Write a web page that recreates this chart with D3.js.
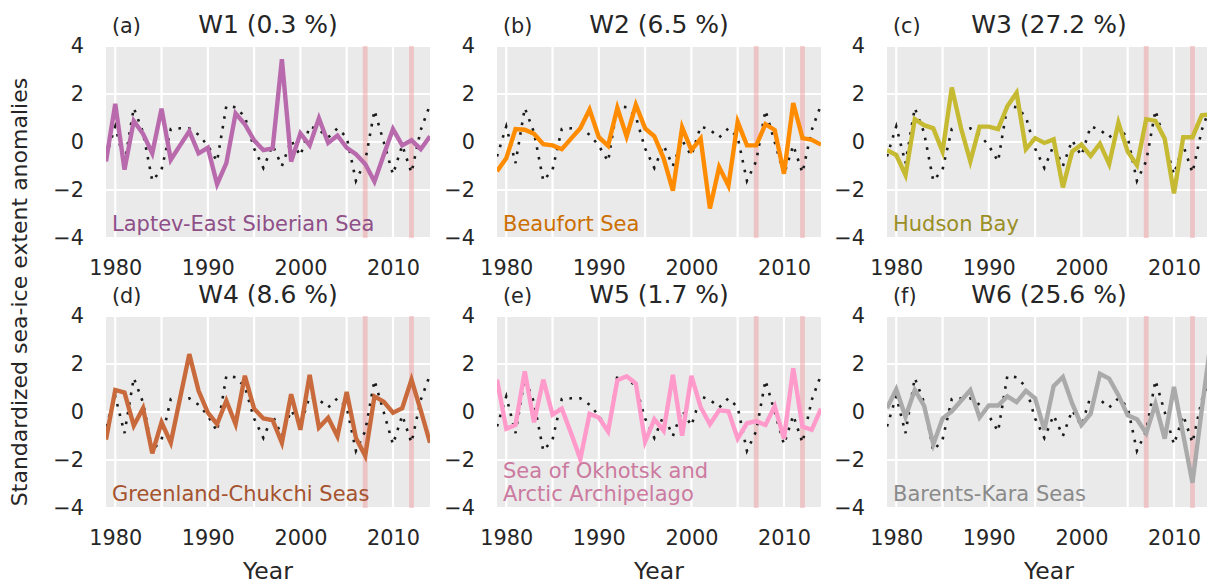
<!DOCTYPE html>
<html>
<head>
<meta charset="utf-8">
<script src="https://cdn.jsdelivr.net/npm/d3@7"></script>
<style>
  html, body { margin: 0; padding: 0; background: #fff; }
  svg { display: block; font-family: "DejaVu Sans", sans-serif; }
</style>
</head>
<body>
<svg id="chart" width="1207" height="585"></svg>
<script>
// Winter sea-ice extent anomalies, 1979-2014
const years = d3.range(1979, 2015);

// Standardized index shown as the dotted reference in every panel
const refSeries = [-0.6, 0.65, -0.88, 1.42, 0.4, -1.62, -1.15, 0.54, 0.57, 0.57,
  0.3, -0.15, -0.81, 1.5, 1.45, 1.05, -0.27, -1.08, -0.14, -1.0,
  0.07, -0.57, 0.65, 0.51, 0.19, 0.57, 0.2, -1.62, -0.8, 1.32,
  0.0, -1.35, -0.14, -1.28, 0.5, 1.55];

const w1 = [-0.81, 1.59, -1.15, 0.88, 0.34, -0.47, 1.39, -0.74, -0.14, 0.45,
  -0.47, -0.24, -1.76, -0.88, 1.19, 0.74, 0.07, -0.34, -0.27, 3.45,
  -0.81, 0.36, -0.14, 0.99, -0.04, 0.27, -0.24, -0.51, -0.92, -1.65,
  -0.54, 0.54, -0.14, 0.07, -0.3, 0.24];
const w2 = [-1.22, -0.68, 0.54, 0.51, 0.34, -0.09, -0.14, -0.3, 0.14, 0.57,
  1.35, 0.2, -0.16, 1.42, 0.23, 1.55, 0.57, 0.24, -0.68, -2.03,
  0.61, -0.34, 0.14, -2.77, -1.04, -1.82, 0.84, -0.14, -0.14, 0.74,
  0.5, -1.32, 1.62, 0.16, 0.09, -0.11];
const w3 = [-0.34, -0.54, -1.38, 0.95, 0.7, 0.57, -0.4, 2.27, 0.57, -0.81,
  0.64, 0.64, 0.54, 1.49, 2.05, -0.3, 0.16, -0.04, 0.11, -1.89,
  -0.4, -0.11, -0.58, -0.07, -0.92, 0.81, -0.4, -0.97, 0.95, 0.88,
  0.14, -2.14, 0.2, 0.2, 1.11, 1.15];
const w4 = [-1.15, 0.92, 0.81, -0.57, 0.16, -1.72, -0.43, -1.28, 0.57, 2.41,
  0.88, -0.03, -0.51, 0.47, -0.51, 1.51, 0.14, -0.27, -0.34, -1.28,
  0.74, -0.74, 1.55, -0.65, -0.24, -1.01, 0.84, -1.08, -1.82, 0.65,
  0.43, -0.03, 0.16, 1.35, 0.07, -1.28];
const w5 = [1.35, -0.7, -0.54, 1.69, -0.43, 1.35, -0.11, 0.14, -0.88, -1.96,
  -0.07, -0.23, -0.81, 1.32, 1.49, 1.19, -1.24, -0.3, -0.78, 1.55,
  -0.99, 1.51, 0.2, -0.51, 0.07, 0.03, -1.11, -0.47, -0.38, -0.54,
  0.24, -1.11, 1.82, -0.61, -0.74, 0.14];
const w6 = [0.16, 0.95, -0.2, 0.92, 0.27, -1.35, -0.27, 0.03, 0.47, 0.91,
  -0.23, 0.27, 0.27, 0.65, 0.41, 0.88, 0.57, -0.74, 1.08, 1.46,
  0.36, -0.54, -0.07, 1.59, 1.39, 0.7, -0.14, -0.3, -0.88, 0.34,
  -1.11, 1.05, -0.95, -2.95, 0.1, 3.0];

const modeSeries = [w1, w2, w3, w4, w5, w6];
const modeNames = ["W1", "W2", "W3", "W4", "W5", "W6"];
const modeShares = [0.3, 6.5, 27.2, 8.6, 1.7, 25.6];
const panelTags = ["(a)", "(b)", "(c)", "(d)", "(e)", "(f)"];
const regionNames = [
  ["Laptev-East Siberian Sea"],
  ["Beaufort Sea"],
  ["Hudson Bay"],
  ["Greenland-Chukchi Seas"],
  ["Sea of Okhotsk and", "Arctic Archipelago"],
  ["Barents-Kara Seas"]
];
const highlightYears = [2007, 2012];
const yTicks = [-4, -2, 0, 2, 4];
const xLabelTicks = [1980, 1990, 2000, 2010];
const xGridTicks = [1980, 1985, 1990, 1995, 2000, 2005, 2010];

// Styling
const lineColors = ["#b86aad", "#ff8c00", "#c6ba33", "#c96a3c", "#ff9acb", "#aaaaaa"];
const labelColors = ["#8f4f88", "#cc6f00", "#9a8f26", "#a5532e", "#cc7aa0", "#8a8a8a"];
const textColor = "#262626";
const panelBg = "#eaeaea";
const bandColor = "rgba(240, 150, 155, 0.45)";

const svg = d3.select("#chart");
const panelW = 324, panelH = 192;
const colX = [106, 497, 887];
const rowY = [46, 316];

const x = d3.scaleLinear().domain([1979, 2014]).range([0, panelW]);
const y = d3.scaleLinear().domain([-4, 4]).range([panelH, 0]);

const line = d3.line().x((d, i) => x(years[i])).y(d => y(d));

modeSeries.forEach((series, k) => {
  const col = k % 3, row = Math.floor(k / 3);
  const g = svg.append("g").attr("transform", `translate(${colX[col]},${rowY[row]})`);
  const clipId = "clip" + k;
  g.append("clipPath").attr("id", clipId)
    .append("rect").attr("width", panelW).attr("height", panelH);

  g.append("rect").attr("width", panelW).attr("height", panelH).attr("fill", panelBg);

  // grid lines
  const grid = g.append("g").attr("clip-path", `url(#${clipId})`);
  grid.selectAll("line.gx").data(xGridTicks).join("line")
    .attr("x1", d => x(d)).attr("x2", d => x(d))
    .attr("y1", 0).attr("y2", panelH)
    .attr("stroke", "#fff").attr("stroke-width", 2.2);
  grid.selectAll("line.gy").data(yTicks).join("line")
    .attr("x1", 0).attr("x2", panelW)
    .attr("y1", d => y(d)).attr("y2", d => y(d))
    .attr("stroke", "#fff").attr("stroke-width", 2.2);

  // highlighted winters
  grid.selectAll("rect.band").data(highlightYears).join("rect")
    .attr("x", d => x(d) - 2.4).attr("width", 4.8)
    .attr("y", 0).attr("height", panelH)
    .attr("fill", bandColor);

  const plot = g.append("g").attr("clip-path", `url(#${clipId})`);
  plot.append("path").datum(refSeries)
    .attr("d", line).attr("fill", "none")
    .attr("stroke", "#1a1a1a").attr("stroke-width", 2.6)
    .attr("stroke-dasharray", "2.6 7.2");
  plot.append("path").datum(series)
    .attr("d", line).attr("fill", "none")
    .attr("stroke", lineColors[k]).attr("stroke-width", 4.4)
    .attr("stroke-linejoin", "miter").attr("stroke-miterlimit", 4);

  // region label
  const lines = regionNames[k];
  lines.forEach((t, j) => {
    g.append("text")
      .attr("x", 6)
      .attr("y", panelH - 7 - (lines.length - 1 - j) * 23.5)
      .attr("fill", labelColors[k])
      .attr("font-size", 21)
      .text(t);
  });

  // y axis labels
  const yAxis = d3.axisLeft(y).tickValues(yTicks).tickSize(0).tickPadding(22)
    .tickFormat(d => d3.format("d")(d).replace("-", "\u2212"));
  const ya = g.append("g").call(yAxis);
  ya.select(".domain").remove();
  ya.selectAll("text").attr("font-size", 20.8).attr("fill", textColor)
    .attr("font-family", "DejaVu Sans");

  // x axis labels
  const xAxis = d3.axisBottom(x).tickValues(xLabelTicks).tickSize(0).tickPadding(22)
    .tickFormat(d3.format("d"));
  const xa = g.append("g").attr("transform", `translate(0,${panelH})`).call(xAxis);
  xa.select(".domain").remove();
  xa.selectAll("text").attr("font-size", 20.8).attr("fill", textColor)
    .attr("font-family", "DejaVu Sans");

  // shared x-axis title on the bottom row only
  if (row === 1) {
    g.append("text").attr("x", panelW / 2).attr("y", panelH + 71)
      .attr("text-anchor", "middle").attr("font-size", 23.5).attr("fill", textColor)
      .text("Year");
  }

  // titles
  g.append("text").attr("x", 6).attr("y", -13)
    .attr("font-size", 20.8).attr("fill", textColor).text(panelTags[k]);
  g.append("text").attr("x", panelW / 2).attr("y", -13)
    .attr("text-anchor", "middle").attr("font-size", 25).attr("fill", textColor)
    .text(`${modeNames[k]} (${modeShares[k]} %)`);
});

svg.append("text")
  .attr("transform", "translate(27,292) rotate(-90)")
  .attr("text-anchor", "middle").attr("font-size", 22).attr("fill", textColor)
  .text("Standardized sea-ice extent anomalies");
</script>
</body>
</html>
